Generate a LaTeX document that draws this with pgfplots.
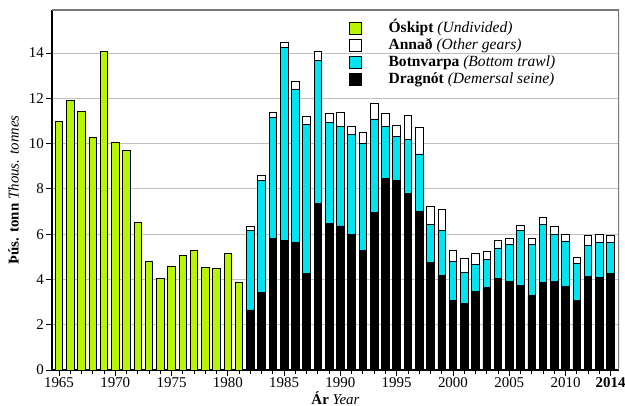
\documentclass[border=0pt]{standalone}
\usepackage{pgfplots}
\usepackage{pgfplotstable}
\pgfplotsset{compat=1.18}
\usepackage{fontspec}
\setmainfont{Liberation Serif}
\definecolor{oskipt}{RGB}{184,245,0}
\definecolor{botn}{RGB}{0,228,242}
\definecolor{framegray}{RGB}{120,120,120}

\pgfplotstableread{
year osk drag botn annad
1965 11.00 0 0 0
1966 11.90 0 0 0
1967 11.40 0 0 0
1968 10.29 0 0 0
1969 14.05 0 0 0
1970 10.04 0 0 0
1971 9.69 0 0 0
1972 6.51 0 0 0
1973 4.78 0 0 0
1974 4.03 0 0 0
1975 4.58 0 0 0
1976 5.04 0 0 0
1977 5.27 0 0 0
1978 4.52 0 0 0
1979 4.50 0 0 0
1980 5.15 0 0 0
1981 3.89 0 0 0
1982 0 2.65 3.53 0.15
1983 0 3.41 4.95 0.22
1984 0 5.80 5.36 0.21
1985 0 5.71 8.54 0.21
1986 0 5.62 6.78 0.33
1987 0 4.27 6.57 0.35
1988 0 7.36 6.30 0.39
1989 0 6.48 4.46 0.38
1990 0 6.36 4.39 0.62
1991 0 5.99 4.40 0.36
1992 0 5.27 4.74 0.49
1993 0 6.95 4.14 0.69
1994 0 8.47 2.28 0.57
1995 0 8.36 1.95 0.50
1996 0 7.80 2.39 1.04
1997 0 7.02 2.52 1.18
1998 0 4.74 1.69 0.78
1999 0 4.17 2.01 0.92
2000 0 3.09 1.71 0.49
2001 0 2.92 1.38 0.62
2002 0 3.45 1.23 0.46
2003 0 3.64 1.26 0.36
2004 0 4.05 1.34 0.32
2005 0 3.92 1.61 0.27
2006 0 3.72 2.43 0.24
2007 0 3.31 2.22 0.30
2008 0 3.86 2.57 0.31
2009 0 3.90 2.11 0.32
2010 0 3.68 2.02 0.31
2011 0 3.06 1.64 0.28
2012 0 4.12 1.37 0.46
2013 0 4.08 1.54 0.37
2014 0 4.27 1.35 0.33
}\datatable

\begin{document}
\begin{tikzpicture}
\begin{axis}[
  scale only axis, width=567bp, height=360bp,
  ybar stacked, bar width=7.6bp,
  xmin=1964.38, xmax=2014.75, ymin=0, ymax=15.9,
  axis x line*=bottom, axis y line*=left,
  axis line style={black, line width=1.3bp},
  xtick={1965,1970,1975,1980,1985,1990,1995,2000,2005,2010,2014},
  xticklabels={1965,1970,1975,1980,1985,1990,1995,2000,2005,2010,\textbf{2014}},
  minor xtick={1965,...,2014},
  ytick={0,2,...,14},
  tick align=outside,
  major tick length=6bp, minor tick length=4bp,
  tick style={black, line width=0.8bp},
  ymajorgrids, grid style={gray!50, line width=1bp},
  tick label style={font=\fontsize{15}{17}\selectfont},
  xticklabel style={inner sep=1.5bp},
  yticklabel style={inner sep=2bp},
  /pgf/number format/assume math mode=true,
  xlabel={\textbf{Ár} \textit{Year}},
  ylabel={\textbf{Þús. tonn} \textit{Thous. tonnes}},
  xlabel style={at={(axis description cs:0.5,0)}, anchor=north, yshift=-21bp, inner sep=0pt, font=\fontsize{15}{17}\selectfont},
  ylabel style={at={(axis description cs:-0.058,0.5)}, anchor=south, inner sep=0pt, font=\fontsize{15}{17}\selectfont},
  legend style={at={(axis description cs:0.524,0.973)}, anchor=north west, draw=none, fill=none, inner sep=0pt,
    row sep=0pt, /tikz/every odd column/.append style={column sep=26bp},
    nodes={inner sep=0.5bp, text height=12bp, text depth=4bp, font=\fontsize{15.6}{17}\selectfont}},
  legend cell align=left,
]
\addplot[fill=oskipt, draw=black, line width=0.8bp, forget plot] table[x=year,y=osk]{\datatable};
\addplot[fill=black, draw=black, line width=0.8bp, forget plot] table[x=year,y=drag]{\datatable};
\addplot[fill=botn, draw=black, line width=0.8bp, forget plot] table[x=year,y=botn]{\datatable};
\addplot[fill=white, draw=black, line width=0.8bp, forget plot] table[x=year,y=annad]{\datatable};

\addlegendimage{legend image code/.code={\draw[fill=oskipt,draw=black,line width=0.8bp] (0bp,-6bp) rectangle (12bp,6bp);}}
\addlegendentry{\textbf{Óskipt} \textit{(Undivided)}}
\addlegendimage{legend image code/.code={\draw[fill=white,draw=black,line width=0.8bp] (0bp,-6bp) rectangle (12bp,6bp);}}
\addlegendentry{\textbf{Annað} \textit{(Other gears)}}
\addlegendimage{legend image code/.code={\draw[fill=botn,draw=black,line width=0.8bp] (0bp,-6bp) rectangle (12bp,6bp);}}
\addlegendentry{\textbf{Botnvarpa} \textit{(Bottom trawl)}}
\addlegendimage{legend image code/.code={\draw[fill=black,draw=black,line width=0.8bp] (0bp,-6bp) rectangle (12bp,6bp);}}
\addlegendentry{\textbf{Dragnót} \textit{(Demersal seine)}}

\draw[framegray, line width=1.5bp] (rel axis cs:0,1) -- (rel axis cs:1,1) -- (rel axis cs:1,0);
\end{axis}
\pgfresetboundingbox
\path ([shift={(-52bp,-36bp)}]current axis.south west) rectangle ([shift={(6bp,10bp)}]current axis.north east);
\end{tikzpicture}
\end{document}
